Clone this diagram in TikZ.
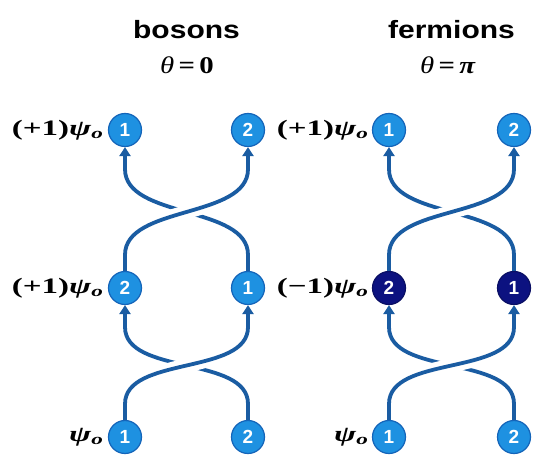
\documentclass[tikz,border=0pt]{standalone}
\usepackage{fontspec}
\setmainfont{Liberation Serif}
\setsansfont{Liberation Sans}
\usetikzlibrary{arrows.meta,calc}
\definecolor{strandc}{RGB}{26,92,162}
\definecolor{ballfill}{RGB}{30,145,225}
\definecolor{ballline}{RGB}{20,100,185}
\definecolor{darkfill}{RGB}{12,18,128}
\definecolor{darkline}{RGB}{10,15,100}
\newcommand{\psilabel}[1]{\scalebox{1.5}[1]{#1\textit{ψ}\textsubscript{\textit{o}}}}
\begin{document}
\begin{tikzpicture}[x=1pt,y=1pt,
  ball/.style={circle, minimum size=33pt, inner sep=0pt, fill=ballfill, draw=ballline, line width=1.2pt, text=white, font=\sffamily\bfseries\fontsize{19}{19}\selectfont},
  darkball/.style={ball, fill=darkfill, draw=darkline},
  lbl/.style={anchor=east, inner sep=0pt, font=\bfseries\fontsize{22}{22}\selectfont},
  title/.style={inner sep=0pt, font=\sffamily\bfseries\fontsize{25}{25}\selectfont},
  theta/.style={inner sep=0pt, font=\fontsize{24}{24}\selectfont},
  strand/.style={draw=strandc, line width=3.8pt, -{Triangle[width=11pt,length=9pt]}},
  over/.style={strand, preaction={draw=white, line width=14pt, -}}
]
\useasboundingbox (0,0) rectangle (535,468);
\fill[white] (0,0) rectangle (535,468);

% titles
\node[title] (tb) at (186.5,438) {\scalebox{1.2}[1]{bosons}};
\node[theta] (thb) at (187,403) {\scalebox{1.2}[1]{\textit{θ}\hspace{0.15em}\textbf{=}\hspace{0.15em}\textbf{0}}};
\node[title] (tf) at (451.5,438) {\scalebox{1.2}[1]{fermions}};
\node[theta] (thf) at (448,403) {\scalebox{1.2}[1]{\textit{θ}\hspace{0.15em}\textbf{=}\hspace{0.15em}\textbf{\textit{π}}}};

% left panel balls
\node[ball] (L11) at (125,338) {1};
\node[ball] (L12) at (248,338) {2};
\node[ball] (L21) at (125,180) {2};
\node[ball] (L22) at (248,180) {1};
\node[ball] (L31) at (125,31) {1};
\node[ball] (L32) at (248,31) {2};
% right panel balls
\node[ball] (R11) at (389,338) {1};
\node[ball] (R12) at (514,338) {2};
\node[darkball] (R21) at (389,180) {2};
\node[darkball] (R22) at (514,180) {1};
\node[ball] (R31) at (389,31) {1};
\node[ball] (R32) at (514,31) {2};

% labels
\node[lbl] (l11) at ($(L11.west)+(-4,0)$) {\psilabel{(+1)}};
\node[lbl] (l21) at ($(L21.west)+(-4,0)$) {\psilabel{(+1)}};
\node[lbl] (l31) at ($(L31.west)+(-4,0)$) {\psilabel{}};
\node[lbl] (r11) at ($(R11.west)+(-3,0)$) {\psilabel{(+1)}};
\node[lbl] (r21) at ($(R21.west)+(-3,0)$) {\psilabel{(−1)}};
\node[lbl] (r31) at ($(R31.west)+(-3,0)$) {\psilabel{}};

% strands: under first, then over
\foreach \P in {L,R}{
  % lower braid
  \draw[strand] (\P32.north) -- ++(0,16) to[out=90,in=-90,looseness=0.85] ($(\P21.south)+(0,-22)$) -- (\P21.south);
  \draw[over] (\P31.north) -- ++(0,16) to[out=90,in=-90,looseness=0.85] ($(\P22.south)+(0,-22)$) -- (\P22.south);
  % upper braid
  \draw[strand] (\P22.north) -- ++(0,16) to[out=90,in=-90,looseness=0.85] ($(\P11.south)+(0,-22)$) -- (\P11.south);
  \draw[over] (\P21.north) -- ++(0,16) to[out=90,in=-90,looseness=0.85] ($(\P12.south)+(0,-22)$) -- (\P12.south);
}
\end{tikzpicture}
\end{document}
